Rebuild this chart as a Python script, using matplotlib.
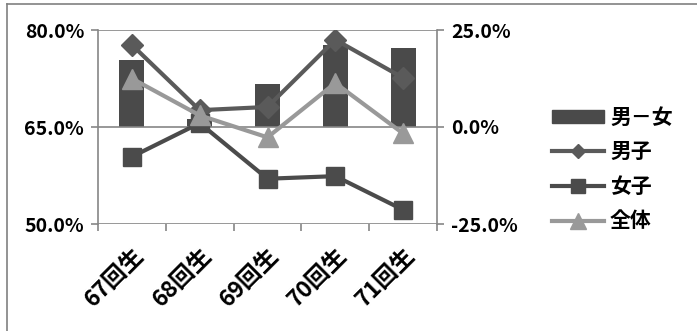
import matplotlib
matplotlib.use("Agg")
import matplotlib.pyplot as plt
from matplotlib.lines import Line2D
from matplotlib.patches import Rectangle
from matplotlib.ticker import FuncFormatter

plt.rcParams['font.family'] = ['Noto Sans CJK JP', 'DejaVu Sans']

categories = ["67回生", "68回生", "69回生", "70回生", "71回生"]
boys = [77.7, 67.6, 68.1, 78.5, 72.6]      # 男子 (%)
girls = [60.4, 65.6, 57.0, 57.4, 52.2]     # 女子 (%)
overall = [72.5, 66.8, 63.4, 71.8, 64.0]   # 全体 (%)
diff = [17.3, 2.0, 11.1, 21.1, 20.4]       # 男－女 (percentage points)

left_ticks = [50, 65, 80]
right_ticks = [-25, 0, 25]

fig = plt.figure(figsize=(6.97, 3.31), dpi=100)
W, H = 697, 331

# outer chart frame
fig.add_artist(Line2D([7 / W, 7 / W], [0, 1 - 4 / H], transform=fig.transFigure,
                      color="#808080", lw=1.2))
fig.add_artist(Line2D([7 / W, 1], [1 - 4 / H, 1 - 4 / H], transform=fig.transFigure,
                      color="#808080", lw=1.2))

ax = fig.add_axes([98 / W, 1 - 224 / H, (437 - 98) / W, (224 - 30) / H])
ax2 = ax.twinx()

x = list(range(len(categories)))

# bars on the secondary axis (drawn behind lines)
ax2.bar(x, diff, width=0.37, color="#4a4a4a", zorder=1)
ax2.set_ylim(-25, 25)
ax2.set_yticks(right_ticks)

ax.set_zorder(ax2.get_zorder() + 1)
ax.patch.set_visible(False)

for t in left_ticks:
    ax.axhline(t, color="#868686", lw=1.2, zorder=0)

LW = 3.0
ax.plot(x, boys, color="#5a5a5a", lw=LW, marker="D", ms=11, zorder=3)
ax.plot(x, girls, color="#4b4b4b", lw=LW, marker="s", ms=13, zorder=3)
ax.plot(x, overall, color="#999999", lw=LW, marker="^", ms=15, zorder=4)

ax.set_xlim(-0.5, len(categories) - 0.5)
ax.set_ylim(50, 80)
ax.set_yticks(left_ticks)

pct = FuncFormatter(lambda v, p: f"{v:.1f}%")
ax.yaxis.set_major_formatter(pct)
ax2.yaxis.set_major_formatter(pct)

for a in (ax, ax2):
    for s in a.spines.values():
        s.set_visible(False)
ax.spines['left'].set_visible(True)
ax.spines['left'].set_color("#868686")
ax.spines['left'].set_linewidth(1.2)
ax2.spines['right'].set_visible(True)
ax2.spines['right'].set_color("#868686")
ax2.spines['right'].set_linewidth(1.2)

ax.set_xticks([i - 0.5 for i in range(len(categories) + 1)], minor=False)
ax.set_xticklabels([])
ax.set_xticks(x, minor=True)
ax.set_xticklabels(categories, minor=True, rotation=45, ha="right",
                   rotation_mode="anchor", fontsize=16.5, fontweight="bold")
ax.tick_params(axis="x", which="minor", length=0, pad=14)
ax.tick_params(axis="x", which="major", length=5, color="#868686", width=1.2, direction="out")
ax.tick_params(axis="y", length=5, color="#868686", width=1.2, labelsize=14, pad=5)
ax2.tick_params(axis="y", length=5, color="#868686", width=1.2, labelsize=14, pad=5)
for lbl in ax.get_yticklabels() + ax2.get_yticklabels():
    lbl.set_fontweight("bold")

# legend
handles = [
    Rectangle((0, 0), 1, 1, color="#4a4a4a"),
    Line2D([], [], color="#5a5a5a", lw=LW, marker="D", ms=7),
    Line2D([], [], color="#4b4b4b", lw=LW, marker="s", ms=10),
    Line2D([], [], color="#999999", lw=LW, marker="^", ms=11),
]
labels = ["男－女", "男子", "女子", "全体"]
leg = fig.legend(handles, labels, loc="upper left",
                 bbox_to_anchor=(533 / W, 1 - 88 / H), frameon=False,
                 handlelength=2.5, handleheight=0.55, labelspacing=0.65,
                 handletextpad=0.3,
                 prop={"size": 15, "weight": "bold"})

fig.savefig("out.png", dpi=100)
